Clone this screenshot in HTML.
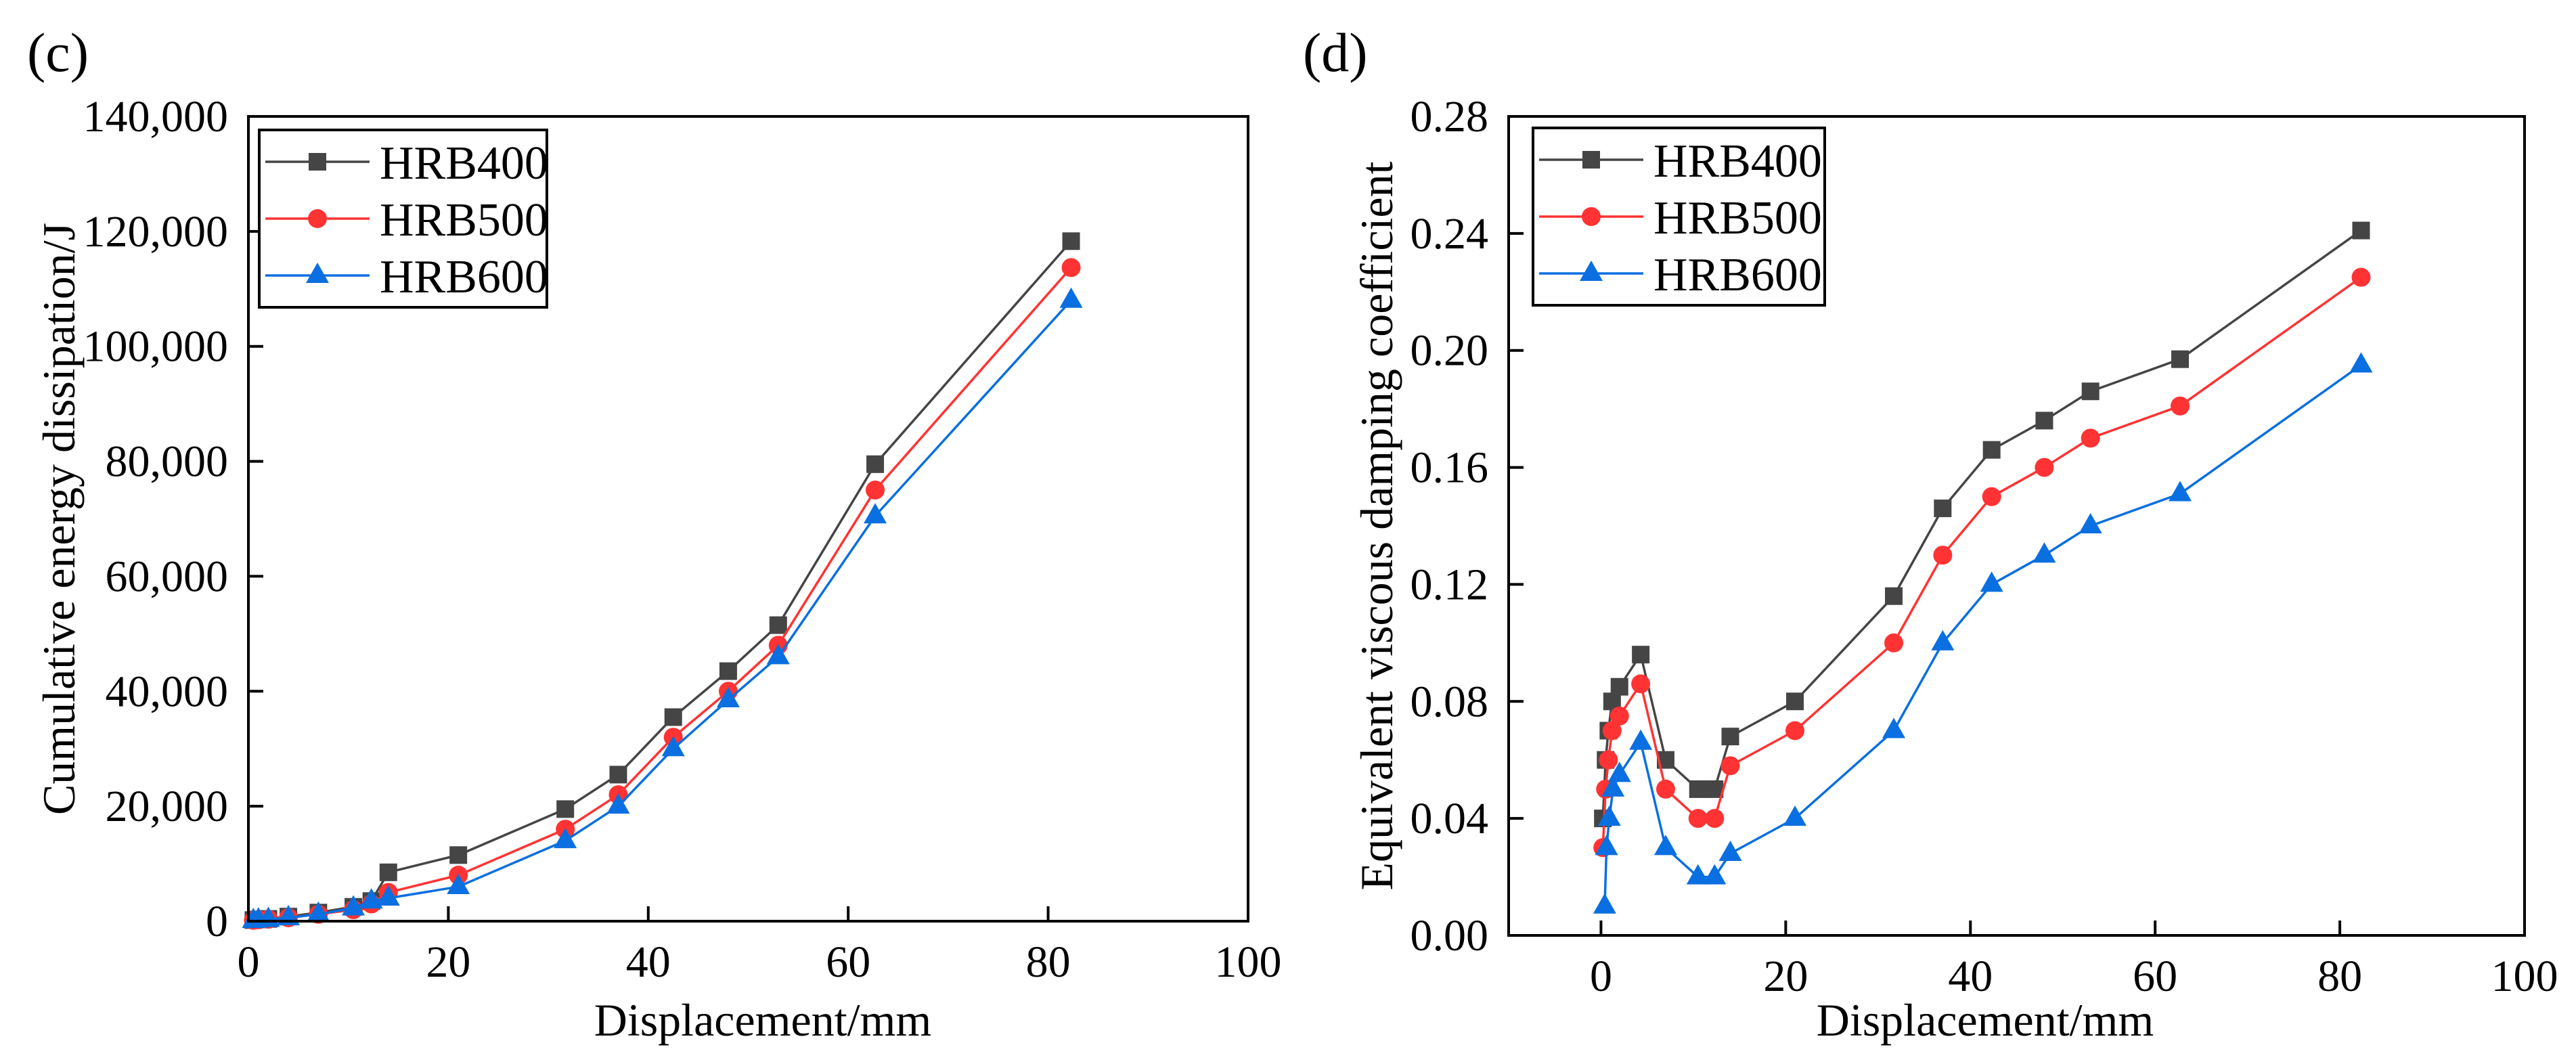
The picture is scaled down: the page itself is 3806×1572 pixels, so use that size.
<!DOCTYPE html>
<html><head><meta charset="utf-8"><style>
html,body{margin:0;padding:0;background:#fff;}
svg{display:block;}
text{font-family:"Liberation Serif","DejaVu Serif",serif;fill:#000;}
</style></head>
<body>
<svg id="fig" width="3806" height="1572" viewBox="0 0 3806 1572" xmlns="http://www.w3.org/2000/svg"></svg>
<script>
// ---- chart (c) data ----
const cX = [0.5,1,2,4,7,10.5,12.3,14,21,31.7,37,42.5,48,53,62.7,82.3];
const cHRB400 = [200,300,400,800,1500,2500,3500,8500,11500,19500,25500,35500,43500,51500,79500,118300];
const cHRB500 = [150,250,350,600,1200,2000,3000,5000,8000,16000,22000,32000,40000,48000,75000,113700];
const cHRB600 = [100,200,300,600,1200,2300,3500,4000,6000,14000,20000,30000,38500,46000,70500,108000];
const cXTicks = [0,20,40,60,80,100];
const cYTicks = [0,20000,40000,60000,80000,100000,120000,140000];
const cYTickLabels = ["0","20,000","40,000","60,000","80,000","100,000","120,000","140,000"];
// ---- chart (d) data ----
const dX400 = [0.2,0.5,0.8,1.2,2,4.3,7,10.5,12.3,14,21,31.7,37,42.3,48,53,62.7,82.3];
const dHRB400 = [0.04,0.06,0.07,0.08,0.085,0.096,0.06,0.05,0.05,0.068,0.08,0.116,0.146,0.166,0.176,0.186,0.197,0.241];
const dX500 = [0.2,0.5,0.8,1.2,2,4.3,7,10.5,12.3,14,21,31.7,37,42.3,48,53,62.7,82.3];
const dHRB500 = [0.03,0.05,0.06,0.07,0.075,0.086,0.05,0.04,0.04,0.058,0.07,0.1,0.13,0.15,0.16,0.17,0.181,0.225];
const dX600 = [0.4,0.6,0.9,1.3,2,4.3,7,10.5,12.3,14,21,31.7,37,42.3,48,53,62.7,82.3];
const dHRB600 = [0.01,0.03,0.04,0.05,0.055,0.066,0.03,0.02,0.02,0.028,0.04,0.07,0.1,0.12,0.13,0.14,0.151,0.195];
const dXTicks = [0,20,40,60,80,100];
const dYTicks = [0,0.04,0.08,0.12,0.16,0.2,0.24,0.28];
const dYTickLabels = ["0.00","0.04","0.08","0.12","0.16","0.20","0.24","0.28"];

const NS = "http://www.w3.org/2000/svg";
const svg = document.getElementById('fig');
function mk(tag, attrs, parent){
  const e = document.createElementNS(NS, tag);
  for (const k in attrs) e.setAttribute(k, attrs[k]);
  (parent||svg).appendChild(e);
  return e;
}
const COLORS = {"HRB400":"#454545","HRB500":"#ff3333","HRB600":"#0a6fe0"};

function marker(g, kind, x, y, color){
  let e;
  if (kind === 'sq') e = mk('rect', {x:x-13, y:y-13, width:26, height:26, fill:color}, g);
  else if (kind === 'ci') e = mk('circle', {cx:x, cy:y, r:14, fill:color}, g);
  else e = mk('polygon', {points:`${x},${y-19} ${x+17},${y+11} ${x-17},${y+11}`, fill:color}, g);
  return e;
}

function chart(cfg){
  const {L,R,T,B,xmin,xmax,ymin,ymax,name} = cfg;
  const sx = v => L + (v - xmin) / (xmax - xmin) * (R - L);
  const sy = v => B - (v - ymin) / (ymax - ymin) * (B - T);
  const g = mk('g', {});
  
  
  cfg.series.forEach(s => {
    const sg = mk('g', {}, g);
    
    
    const pts = s.x.map((xv, i) => sx(xv) + ',' + sy(s.y[i])).join(' ');
    const pl = mk('polyline', {points:pts, fill:'none', stroke:COLORS[s.label], 'stroke-width':3.5, 'stroke-linejoin':'round'}, sg);
    
    
    s.x.forEach((xv, i) => {
      const m = marker(sg, s.kind, sx(xv), sy(s.y[i]), COLORS[s.label]);
      
      
    });
  });
  const fr = mk('rect', {x:L, y:T, width:R-L, height:B-T, fill:'none', stroke:'#000', 'stroke-width':4}, g);
  
  
  cfg.xTicks.forEach(v => {
    const x = sx(v);
    const t = mk('line', {x1:x, x2:x, y1:B, y2:B-22, stroke:'#000', 'stroke-width':4}, g);
    
    
    const tx = mk('text', {x:x, y:B+82, 'font-size':66, 'text-anchor':'middle'}, g);
    tx.textContent = String(v);
    
    
  });
  cfg.yTicks.forEach((v, i) => {
    const y = sy(v);
    const t = mk('line', {x1:L, x2:L+22, y1:y, y2:y, stroke:'#000', 'stroke-width':4}, g);
    
    
    const tx = mk('text', {x:L-30, y:y+22, 'font-size':66, 'text-anchor':'end'}, g);
    tx.textContent = cfg.yLabels[i];
    
    
  });
  const xt = mk('text', {x:cfg.xTitleX, y:1530, 'font-size':68, 'text-anchor':'middle'}, g);
  xt.textContent = 'Displacement/mm';
  
  
  const yt = mk('text', {x:0, y:0, 'font-size':68, 'text-anchor':'middle', transform:`translate(${cfg.yTitleX},${(T+B)/2}) rotate(-90)`}, g);
  yt.textContent = cfg.yTitle;
  
  
  const pl = mk('text', {x:cfg.panelX, y:105, 'font-size':82}, g);
  pl.textContent = cfg.panel;
  
  
  const lg = mk('g', {}, g);
  
  
  const lb = mk('rect', {x:cfg.legX, y:cfg.legY, width:cfg.legW, height:262, fill:'#fff', stroke:'#000', 'stroke-width':4}, lg);
  
  
  cfg.series.forEach((s, i) => {
    const y = cfg.legY + 47 + i * 84;
    const eg = mk('g', {}, lg);
    
    
    mk('line', {x1:cfg.legX+9, x2:cfg.legX+163, y1:y, y2:y, stroke:COLORS[s.label], 'stroke-width':3.5}, eg);
    marker(eg, s.kind, cfg.legX+86, y, COLORS[s.label]);
    const t = mk('text', {x:cfg.legX+178, y:y+25, 'font-size':70}, eg);
    t.textContent = s.label;
  });
}

chart({name:'chart-cumulative-energy', panel:'(c)', panelX:40,
  L:367, R:1844, T:172, B:1361, xmin:0, xmax:100, ymin:0, ymax:140000,
  xTicks:cXTicks, yTicks:cYTicks, yLabels:cYTickLabels,
  xTitleX:1127, yTitleX:110, yTitle:'Cumulative energy dissipation/J',
  legX:383, legY:192, legW:425,
  series:[
    {label:'HRB400', kind:'sq', x:cX, y:cHRB400},
    {label:'HRB500', kind:'ci', x:cX, y:cHRB500},
    {label:'HRB600', kind:'tr', x:cX, y:cHRB600}
  ]});

chart({name:'chart-damping-coefficient', panel:'(d)', panelX:1925,
  L:2229, R:3730, T:172, B:1382, xmin:-10, xmax:100, ymin:0, ymax:0.28,
  xTicks:dXTicks, yTicks:dYTicks, yLabels:dYTickLabels,
  xTitleX:2933, yTitleX:2057, yTitle:'Equivalent viscous damping coefficient',
  legX:2265, legY:189, legW:431,
  series:[
    {label:'HRB400', kind:'sq', x:dX400, y:dHRB400},
    {label:'HRB500', kind:'ci', x:dX500, y:dHRB500},
    {label:'HRB600', kind:'tr', x:dX600, y:dHRB600}
  ]});
</script>
</body></html>
